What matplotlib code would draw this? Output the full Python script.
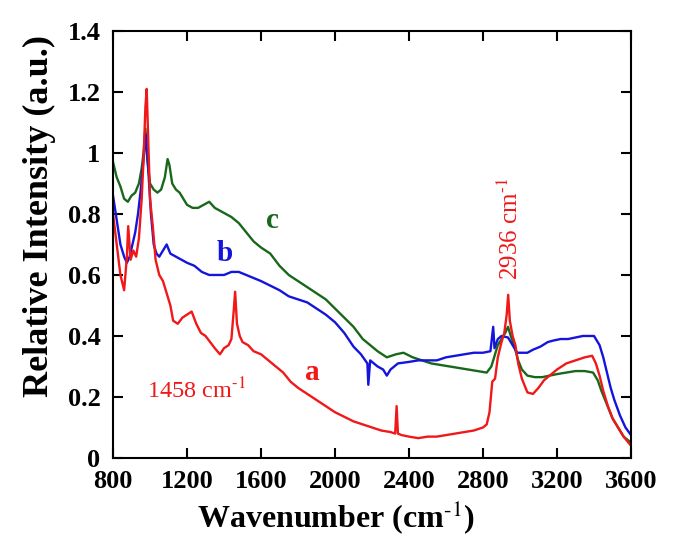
import matplotlib

matplotlib.use("Agg")
import matplotlib.pyplot as plt

# Spectrum a (red)
wn_a = [800, 820, 840, 860, 875, 882, 895, 910, 925, 940, 955, 965, 975, 982, 990,
        1000, 1015, 1030, 1050, 1070, 1090, 1110, 1125, 1150, 1175, 1200, 1225, 1250,
        1275, 1300, 1325, 1350, 1378, 1400, 1425, 1440, 1452, 1460, 1470, 1485, 1500,
        1530, 1560, 1600, 1640, 1680, 1720, 1760, 1800, 1850, 1900, 1950, 2000, 2050,
        2100, 2150, 2200, 2250, 2300, 2325, 2333, 2340, 2360, 2400, 2450, 2500, 2550,
        2600, 2650, 2700, 2750, 2800, 2820, 2835, 2850, 2865, 2880, 2900, 2915, 2928,
        2936, 2945, 2960, 2975, 2990, 3010, 3040, 3070, 3100, 3130, 3160, 3200, 3250,
        3300, 3350, 3390, 3410, 3430, 3450, 3475, 3500, 3530, 3560, 3600]
int_a = [0.80, 0.70, 0.60, 0.55, 0.66, 0.76, 0.65, 0.68, 0.66, 0.72, 0.85, 0.98, 1.15, 1.21, 1.05,
         0.85, 0.76, 0.65, 0.60, 0.58, 0.54, 0.50, 0.45, 0.44, 0.46, 0.47, 0.48, 0.44,
         0.41, 0.40, 0.38, 0.36, 0.34, 0.36, 0.37, 0.39, 0.48, 0.545, 0.44, 0.40, 0.38,
         0.37, 0.35, 0.34, 0.32, 0.30, 0.28, 0.25, 0.23, 0.21, 0.19, 0.17, 0.15, 0.135,
         0.12, 0.11, 0.10, 0.09, 0.085, 0.08, 0.17, 0.08, 0.075, 0.07, 0.065, 0.07, 0.07,
         0.075, 0.08, 0.085, 0.09, 0.10, 0.11, 0.15, 0.25, 0.26, 0.33, 0.38, 0.41, 0.47,
         0.535, 0.45, 0.40, 0.37, 0.31, 0.26, 0.215, 0.21, 0.23, 0.255, 0.27, 0.29, 0.31,
         0.32, 0.33, 0.335, 0.31, 0.27, 0.22, 0.17, 0.13, 0.10, 0.07, 0.04]

# Spectrum b (blue)
wn_b = [800, 820, 840, 860, 875, 890, 905, 920, 935, 950, 965, 978, 990, 1005, 1020,
        1035, 1050, 1070, 1090, 1110, 1140, 1170, 1200, 1240, 1280, 1320, 1360, 1400,
        1440, 1480, 1520, 1560, 1600, 1650, 1700, 1750, 1800, 1850, 1900, 1950, 2000,
        2050, 2100, 2140, 2175, 2180, 2190, 2230, 2260, 2280, 2300, 2340, 2400, 2450,
        2500, 2550, 2600, 2650, 2700, 2750, 2800, 2840, 2855, 2862, 2880, 2900, 2935,
        2960, 2985, 3010, 3040, 3070, 3110, 3150, 3180, 3220, 3260, 3300, 3340, 3370,
        3400, 3430, 3450, 3470, 3490, 3510, 3540, 3570, 3600]
int_b = [0.86, 0.78, 0.70, 0.66, 0.64, 0.66, 0.70, 0.74, 0.80, 0.88, 0.98, 1.06, 0.95, 0.80, 0.70,
         0.67, 0.66, 0.68, 0.70, 0.67, 0.66, 0.65, 0.64, 0.63, 0.61, 0.60, 0.60, 0.60,
         0.61, 0.61, 0.60, 0.59, 0.58, 0.565, 0.55, 0.53, 0.52, 0.51, 0.49, 0.47, 0.445,
         0.41, 0.365, 0.34, 0.31, 0.24, 0.32, 0.30, 0.29, 0.27, 0.29, 0.31, 0.315, 0.32,
         0.32, 0.32, 0.33, 0.335, 0.34, 0.345, 0.345, 0.35, 0.43, 0.36, 0.39, 0.40, 0.395,
         0.37, 0.345, 0.345, 0.345, 0.355, 0.365, 0.38, 0.385, 0.39, 0.39, 0.395, 0.40, 0.40,
         0.40, 0.37, 0.33, 0.28, 0.23, 0.19, 0.14, 0.10, 0.075]

# Spectrum c (green)
wn_c = [800, 820, 840, 860, 880, 900, 920, 940, 955, 965, 975, 985, 1000, 1020, 1040,
        1060, 1080, 1095, 1105, 1120, 1140, 1160, 1180, 1200, 1230, 1260, 1290, 1320,
        1350, 1380, 1410, 1440, 1480, 1520, 1560, 1600, 1650, 1700, 1750, 1800, 1850,
        1900, 1950, 2000, 2050, 2100, 2150, 2190, 2230, 2280, 2330, 2370, 2420, 2470,
        2520, 2570, 2620, 2670, 2720, 2770, 2820, 2845, 2860, 2880, 2900, 2920, 2935,
        2950, 2970, 2990, 3010, 3040, 3080, 3120, 3160, 3200, 3250, 3300, 3350, 3395,
        3420, 3440, 3460, 3480, 3500, 3530, 3560, 3600]
int_c = [0.97, 0.92, 0.89, 0.85, 0.84, 0.86, 0.87, 0.90, 0.95, 1.00, 1.08, 0.98, 0.90, 0.88, 0.87,
         0.88, 0.92, 0.98, 0.96, 0.90, 0.88, 0.87, 0.85, 0.83, 0.82, 0.82, 0.83, 0.84,
         0.82, 0.81, 0.80, 0.79, 0.77, 0.74, 0.71, 0.69, 0.67, 0.63, 0.60, 0.58, 0.56,
         0.54, 0.52, 0.49, 0.46, 0.43, 0.39, 0.37, 0.35, 0.33, 0.34, 0.345, 0.33, 0.32,
         0.31, 0.305, 0.30, 0.295, 0.29, 0.285, 0.28, 0.30, 0.33, 0.37, 0.39, 0.41, 0.43,
         0.40, 0.365, 0.32, 0.29, 0.27, 0.265, 0.265, 0.27, 0.275, 0.28, 0.285, 0.285, 0.28,
         0.255, 0.22, 0.19, 0.16, 0.13, 0.10, 0.07, 0.05]

RED = "#f01818"
BLUE = "#1414dc"
GREEN = "#17681a"

plt.rcParams["font.family"] = ["Liberation Serif", "DejaVu Serif"]
plt.rcParams["mathtext.fontset"] = "stix"

fig = plt.figure(figsize=(6.78, 5.56), dpi=100)
ax = fig.add_axes([0.1667, 0.1763, 0.764, 0.768])

ax.plot(wn_c, int_c, color=GREEN, lw=1.7)
ax.plot(wn_b, int_b, color=BLUE, lw=1.7)
ax.plot(wn_a, int_a, color=RED, lw=1.7)

ax.set_xlim(800, 3600)
ax.set_ylim(0, 1.4)
ax.set_xticks(range(800, 3601, 400))
ax.set_yticks([0, 0.2, 0.4, 0.6, 0.8, 1.0, 1.2, 1.4])
ax.set_yticklabels(["0", "0.2", "0.4", "0.6", "0.8", "1", "1.2", "1.4"])
ax.tick_params(direction="in", length=7, width=1.5, top=True, right=True, labelsize=19)
ax.tick_params(axis="y", pad=9)
ax.tick_params(axis="x", pad=9)
for lab in ax.get_xticklabels() + ax.get_yticklabels():
    lab.set_fontweight("bold")
for sp in ax.spines.values():
    sp.set_linewidth(1.5)

ax.set_xlabel(r"Wavenumber (cm$^{\mathbf{\text{-1}}}$)", fontsize=23, fontweight="bold")
ax.xaxis.set_label_coords(0.43, -0.095)
ax.set_ylabel("Relative Intensity (a.u.)", fontsize=26, fontweight="bold")
ax.yaxis.set_label_coords(-0.11, 0.567)

ax.text(1660, 0.78, "c", color=GREEN, fontsize=21, fontweight="bold", ha="center", va="center")
ax.text(1405, 0.67, "b", color=BLUE, fontsize=21, fontweight="bold", ha="center", va="center")
ax.text(1875, 0.28, "a", color=RED, fontsize=21, fontweight="bold", ha="center", va="center")
ax.text(984, 0.22, r"1458 cm$^{\text{-1}}$", color=RED, fontsize=17.5, ha="left", va="center")
ax.text(2946, 0.75, r"2936 cm$^{\text{-1}}$", color=RED, fontsize=18, rotation=90,
        ha="center", va="center")

fig.savefig("out.png", dpi=100)
